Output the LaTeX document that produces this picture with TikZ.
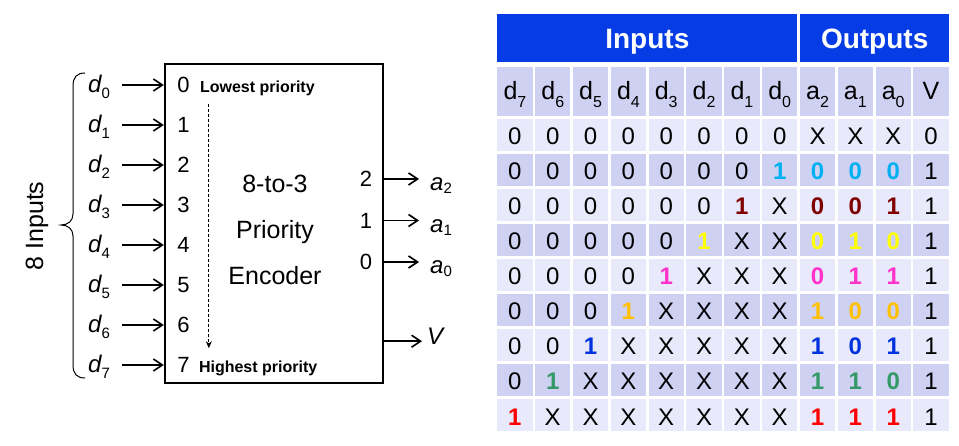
\documentclass[tikz,border=0pt]{standalone}
\usepackage{fontspec}
\setmainfont{Liberation Sans}
\usetikzlibrary{positioning, arrows.meta}

\definecolor{hdblue}{RGB}{6,60,230}
\definecolor{rowdark}{RGB}{207,209,243}
\definecolor{rowlight}{RGB}{232,233,250}
\definecolor{hotcyan}{RGB}{0,176,240}
\definecolor{hotmaroon}{RGB}{128,0,0}
\definecolor{hotyellow}{RGB}{255,255,0}
\definecolor{hotpink}{RGB}{255,51,204}
\definecolor{hotorange}{RGB}{255,192,0}
\definecolor{hotblue}{RGB}{0,51,221}
\definecolor{hotgreen}{RGB}{51,153,102}
\definecolor{hotred}{RGB}{255,0,0}

\newcommand{\sig}[3][6pt]{{\itshape #2}\raisebox{-#1}{\fontsize{15}{15}\selectfont #3}}
\newcommand{\colhd}[2]{#1\raisebox{-8pt}{\fontsize{16}{16}\selectfont #2}}

\begin{document}
\begin{tikzpicture}[x = 1pt, y = -1pt, every node/.style = { inner sep = 0pt },
    pin/.style = { font = \fontsize{22}{22}\selectfont, text height = 16pt, text depth = 0pt },
    sig/.style = { font = \fontsize{24}{24}\selectfont },
    prio/.style = { font = \fontsize{16}{16}\selectfont\bfseries },
    wire/.style = { line width = 1.6pt, -{Straight Barb[length = 9pt, width = 12pt]} },
    order/.style = { line width = 0.8pt, dash pattern = on 3pt off 2pt, -{Stealth[length = 7pt, width = 6pt]} },
    cell/.style = { draw = white, line width = 2.5pt, minimum width = 37.83pt, minimum height = 35pt,
      text height = 20pt, text depth = 0pt, font = \fontsize{24}{24}\selectfont }]
  \useasboundingbox (0,0) rectangle (959,446);

  \node [draw, line width = 2.4pt, minimum width = 218pt, minimum height = 319pt] (enc) at (274,223.5) {};
  \node [font = \fontsize{25}{46}\selectfont, align = center] (title) at (275,230) { 8-to-3 \\ Priority \\ Encoder };

  \foreach \i in {0,...,7} {
    \node [pin] (p\i) at (183.5,85+40*\i) {\i};
    \node [sig, anchor = base west] (d\i) at (88,93+40*\i) {\sig{d}{\i}};
    \draw [wire, shorten <= 12pt] (d\i.east |- p\i.center) -- (p\i.center -| enc.west);
  }
  \node [prio, base right = 10pt of p0] (lowp) { Lowest priority };
  \node [prio, base right = 9pt of p7] (highp) { Highest priority };
  \coordinate (ordtop) at ([xshift = 9pt]lowp.south west);
  \draw [order, shorten <= 7pt, shorten >= 13pt] (ordtop) -- (ordtop |- highp.north);

  \foreach \j/\yy in {2/179, 1/220.5, 0/262} {
    \node [pin] (q\j) at (366,\yy) {\j};
    \node [sig, anchor = base west] (a\j) at (430,\yy+12) {\sig[3pt]{a}{\j}};
    \draw [wire, shorten >= 11pt] (q\j.center -| enc.east) -- (a\j.west |- q\j.center);
  }
  \node [sig, anchor = base west] (v) at (427,345) {\itshape V};
  \coordinate (vtip) at ([yshift = -4.5pt]v.west);
  \draw [wire, shorten >= 5pt] (vtip -| enc.east) -- (vtip);

  \draw [line width = 1pt] (85,73) .. controls (77,73) and (73,77) .. (73,86) -- (73,214)
    .. controls (73,221) and (68,225) .. (61,225) .. controls (68,225) and (73,229) .. (73,236)
    -- (73,365) .. controls (73,374) and (77,378) .. (85,378);
  \node [rotate = 90, anchor = base, font = \fontsize{25}{25}\selectfont] (ins) at (43,226) {8 Inputs};

  \node [cell, fill = hdblue, minimum width = 302.67pt, minimum height = 50.5pt, text height = 21.5pt,
    text = white, font = \fontsize{28}{28}\selectfont\bfseries] (inhd) at (647.33,38.25) {Inputs};
  \node [cell, fill = hdblue, minimum width = 151.33pt, minimum height = 50.5pt, text height = 21.5pt,
    text = white, font = \fontsize{28}{28}\selectfont\bfseries] (outhd) at (874.67,38.25) {Outputs};

  \foreach \ltr/\sb [count = \c] in {d/7, d/6, d/5, d/4, d/3, d/2, d/1, d/0, a/2, a/1, a/0, V/} {
    \node [cell, fill = rowdark, minimum height = 52pt, text height = 17pt, font = \fontsize{25}{25}\selectfont]
      (h\c) at (496+37.83*\c-18.915,91.5) {\colhd{\ltr}{\sb}};
  }

  \foreach \vals/\hot/\hue [count = \r from 0] in {
      {0,0,0,0,0,0,0,0,X,X,X,0}/0/black,
      {0,0,0,0,0,0,0,1,0,0,0,1}/8/hotcyan,
      {0,0,0,0,0,0,1,X,0,0,1,1}/7/hotmaroon,
      {0,0,0,0,0,1,X,X,0,1,0,1}/6/hotyellow,
      {0,0,0,0,1,X,X,X,0,1,1,1}/5/hotpink,
      {0,0,0,1,X,X,X,X,1,0,0,1}/4/hotorange,
      {0,0,1,X,X,X,X,X,1,0,1,1}/3/hotblue,
      {0,1,X,X,X,X,X,X,1,1,0,1}/2/hotgreen,
      {1,X,X,X,X,X,X,X,1,1,1,1}/1/hotred} {
    \edef\rowfill{\ifodd\r rowdark\else rowlight\fi}
    \foreach \v [count = \c] in \vals {
      \pgfmathtruncatemacro\hl{(\c == \hot) || (\hot > 0 && \c > 8 && \c < 12)}
      \node [cell, fill = \rowfill] (c-\r-\c) at (496+37.83*\c-18.915,135+35*\r)
        {\ifnum\hl = 1 {\bfseries\color{\hue}\v}\else\v\fi};
    }
  }
\end{tikzpicture}
\end{document}
